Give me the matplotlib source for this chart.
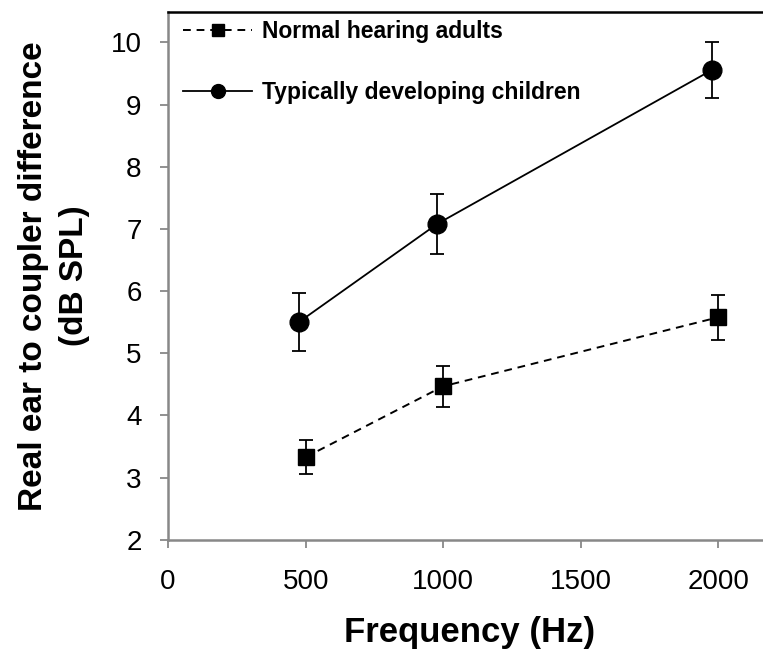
import numpy as np
import matplotlib.pyplot as plt
from matplotlib.lines import Line2D

plt.rcParams['font.family'] = ['Liberation Sans', 'DejaVu Sans']

# Frecuencias (Hz) y diferencia oído real - acoplador (dB SPL)
freq_adults = [500, 1000, 2000]
recd_adults = [3.33, 4.47, 5.58]
err_adults = [0.27, 0.33, 0.36]

freq_children = [475, 978, 1978]
recd_children = [5.50, 7.08, 9.56]
err_children = [0.47, 0.48, 0.45]

fig = plt.figure(figsize=(7.63, 6.56), dpi=100)
ax = fig.add_axes([0.2202, 0.177, 0.79, 0.804])

ax.errorbar(freq_adults, recd_adults, yerr=err_adults, color='black', ls='--',
            lw=1.4, dashes=(4, 3), marker='s', ms=11.5, capsize=5, elinewidth=1.3,
            capthick=1.3)
ax.errorbar(freq_children, recd_children, yerr=err_children, color='black', ls='-',
            lw=1.3, marker='o', ms=13.5, capsize=5, elinewidth=1.3,
            capthick=1.3)

ax.set_xlim(0, 2190)
ax.set_ylim(2, 10.48)
ax.set_xticks([0, 500, 1000, 1500, 2000])
ax.set_yticks(range(2, 11))

ax.spines['right'].set_visible(False)
ax.spines['top'].set_linewidth(1.8)
for s in ['left', 'bottom']:
    ax.spines[s].set_color('#888888')
    ax.spines[s].set_linewidth(1.8)
ax.tick_params(axis='both', colors='#888888', length=6, width=1.3,
               labelsize=20, labelcolor='black')
ax.tick_params(axis='x', pad=15)
ax.tick_params(axis='y', pad=13)

ax.set_xlabel('Frequency (Hz)', fontsize=25, fontweight='bold')
ax.xaxis.set_label_coords(0.5, -0.145)
ax.set_ylabel('Real ear to coupler difference\n(dB SPL)', fontsize=24,
              fontweight='bold', linespacing=1.4)
ax.yaxis.set_label_coords(-0.13, 0.5)

# leyenda sin barras de error
h_adults = Line2D([], [], color='black', ls='--', lw=1.4, dashes=(4, 3),
                  marker='s', ms=8)
h_children = Line2D([], [], color='black', ls='-', lw=1.3, marker='o', ms=10)
ax.legend([h_adults, h_children],
          ['Normal hearing adults', 'Typically developing children'],
          loc='upper left', frameon=False, handlelength=3.0, handletextpad=0.45,
          prop={'weight': 'bold', 'size': 16.5}, borderaxespad=0.0,
          labelspacing=1.65, bbox_to_anchor=(0.01, 1.003))

fig.savefig('out.png', dpi=100)
